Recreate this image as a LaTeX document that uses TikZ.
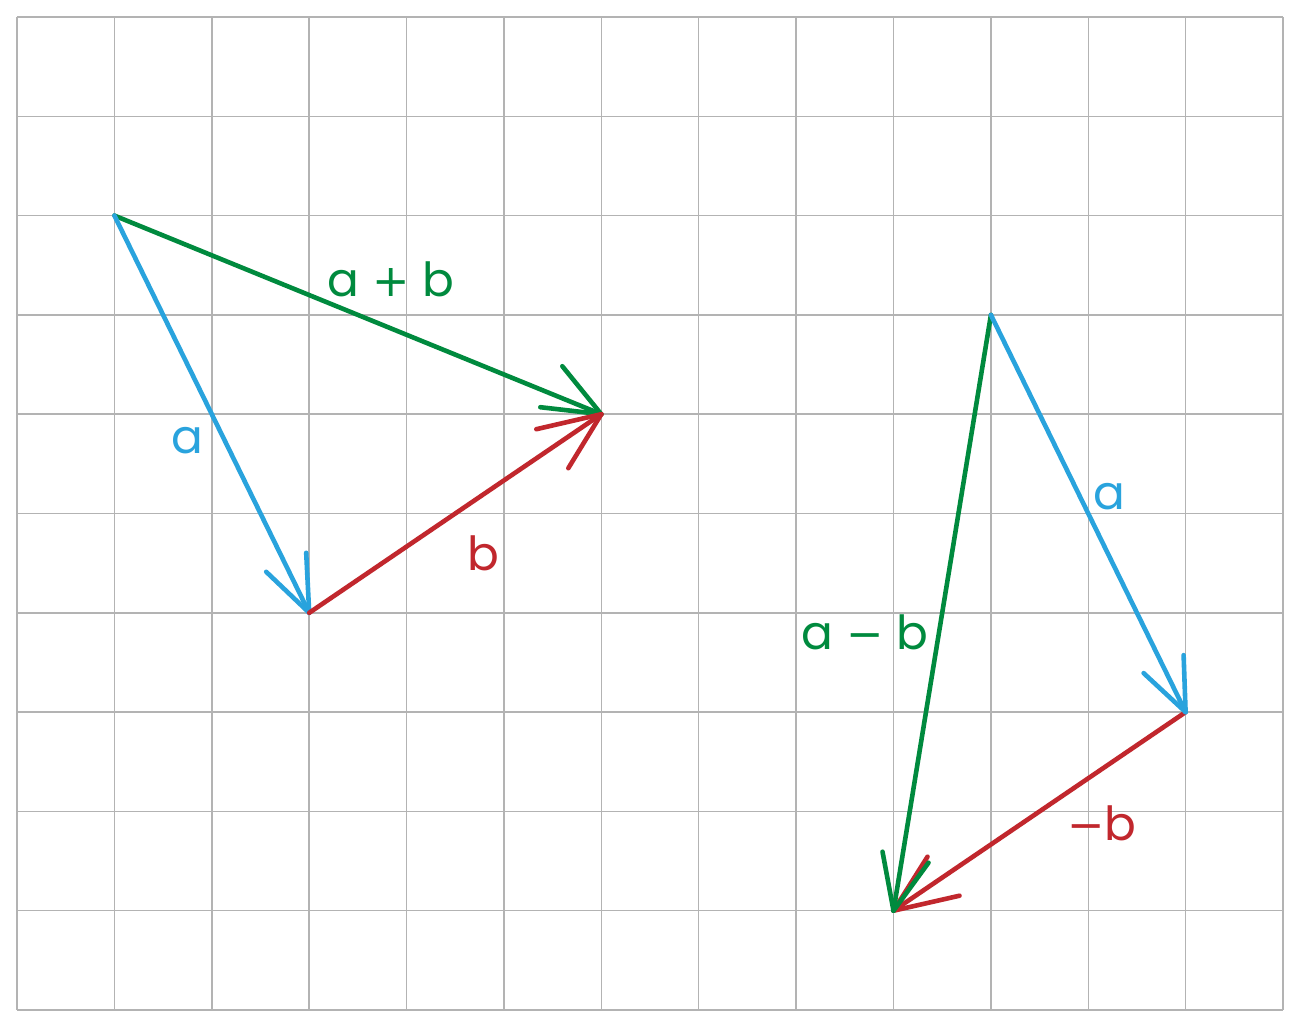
\documentclass[tikz,border=0pt]{standalone}
\usepackage{fontspec}
\setmainfont{Poppins}
\newfontfamily\opfont{DejaVu Sans}[Scale=0.95]
\definecolor{vblue}{HTML}{29A3DD}
\definecolor{vgreen}{HTML}{008A3E}
\definecolor{vred}{HTML}{C1272D}
\definecolor{gridgray}{HTML}{B3B3B3}
\tikzset{
  vec/.style={line width=2.3pt, line cap=round, line join=round},
  lbl/.style={font=\fontsize{23.5}{28}\selectfont, inner sep=0pt},
  gridline/.style={gridgray, line width=0.75pt}
}
\begin{document}
\begin{tikzpicture}[x=0.5pt,y=-0.5pt]
\useasboundingbox (0,0) rectangle (1300,1028);
\fill[white] (0,0) rectangle (1300,1028);
% grid
\foreach \i in {0,...,13} {
  \draw[gridline] ({17+\i*97.385},17) -- ({17+\i*97.385},1010);
}
\foreach \j in {0,...,10} {
  \draw[gridline] (17,{17+\j*99.3}) -- (1283,{17+\j*99.3});
}
% points
\coordinate (A) at (114.4,215.6);
\coordinate (B) at (309.2,612.8);
\coordinate (C) at (601.3,414.2);
\coordinate (D) at (990.9,314.9);
\coordinate (E) at (1185.6,712.1);
\coordinate (F) at (893.5,910.7);
% left triangle
\draw[vec, vgreen] (A) -- (C);
\draw[vec, vgreen] (C) -- ++(-39,-48);
\draw[vec, vgreen] (C) -- ++(-61,-7);
\draw[vec, vblue] (A) -- (B);
\draw[vec, vblue] (B) -- ++(-3,-60);
\draw[vec, vblue] (B) -- ++(-43,-41);
\draw[vec, vred] (B) -- (C);
\draw[vec, vred] (C) -- ++(-65,15);
\draw[vec, vred] (C) -- ++(-33,54);
% right triangle
\draw[vec, vred] (E) -- (F);
\draw[vec, vred] (F) -- ++(34,-54);
\draw[vec, vred] (F) -- ++(66,-15);
\draw[vec, vgreen] (D) -- (F);
\draw[vec, vgreen] (F) -- ++(-11,-59);
\draw[vec, vgreen] (F) -- ++(35,-48);
\draw[vec, vblue] (D) -- (E);
\draw[vec, vblue] (E) -- ++(-2,-57);
\draw[vec, vblue] (E) -- ++(-42,-39);
% labels
\node[lbl, vgreen] (lab) at (391,279) {a {\opfont +} b};
\node[lbl, vblue] (la) at (187,441) {a};
\node[lbl, vred] (lb) at (483,553) {b};
\node[lbl, vblue] (ra) at (1109,497) {a};
\node[lbl, vgreen] (ramb) at (865,632) {a {\opfont −} b};
\node[lbl, vred] (rmb) at (1102,823) {{\opfont −}b};
\end{tikzpicture}
\end{document}
